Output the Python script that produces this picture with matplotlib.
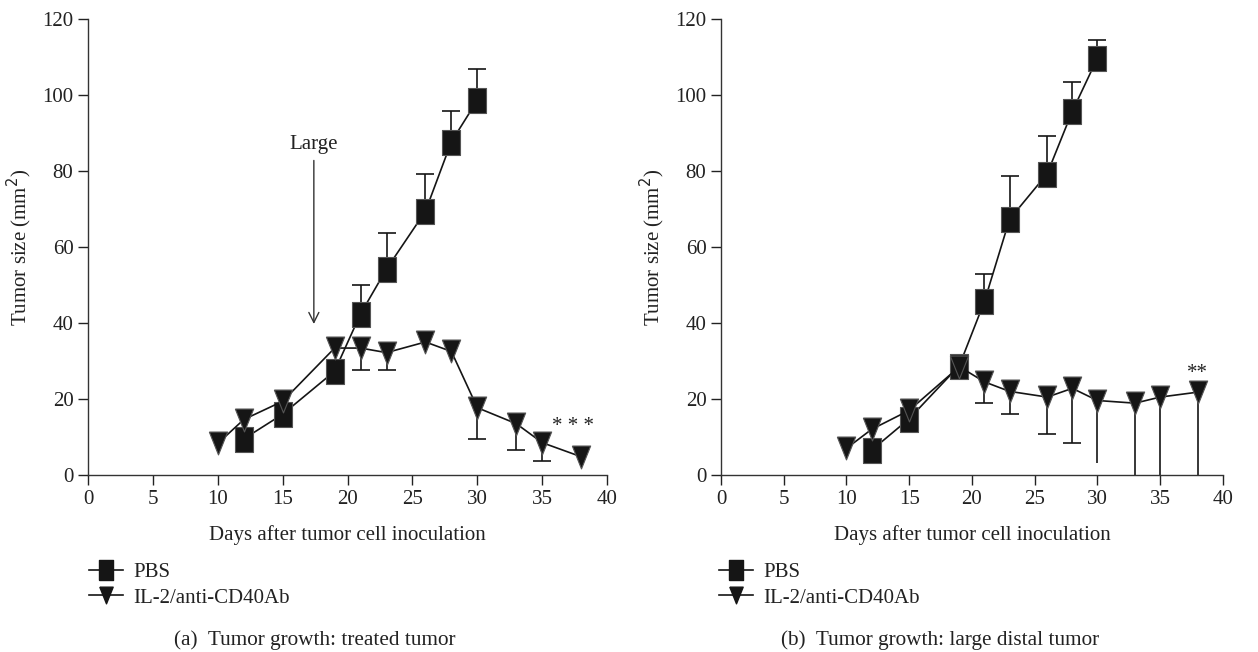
import numpy as np
import matplotlib.pyplot as plt
from matplotlib.lines import Line2D

plt.rcParams['font.family'] = ['Liberation Serif', 'DejaVu Serif']

# (a) treated tumor
a_pbs_days = [12, 15, 19, 21, 23, 26, 28, 30]
a_pbs_size = [9.5, 16.0, 27.3, 42.4, 54.2, 69.4, 87.7, 98.6]
a_pbs_err = [0, 0, 0, 7.7, 9.4, 9.7, 8.0, 8.2]

a_il2_days = [10, 12, 15, 19, 21, 23, 26, 28, 30, 33, 35, 38]
a_il2_size = [8.3, 14.6, 19.4, 33.4, 33.4, 32.2, 35.0, 32.5, 17.7, 13.5, 8.5, 4.8]
a_il2_err = [0, 0, 0, 0, 5.9, 4.6, 0, 0, 8.3, 6.8, 4.8, 0]

# (b) large distal tumor
b_pbs_days = [12, 15, 19, 21, 23, 26, 28, 30]
b_pbs_size = [6.5, 14.8, 28.8, 45.7, 67.3, 79.3, 95.7, 109.7]
b_pbs_err = [0, 0, 2.5, 7.1, 11.5, 9.8, 7.7, 4.7]

b_il2_days = [10, 12, 15, 19, 21, 23, 26, 28, 30, 33, 35, 38]
b_il2_size = [7.0, 12.0, 17.0, 28.5, 24.5, 22.0, 20.5, 22.8, 19.6, 18.9, 20.5, 21.8]
b_il2_err = [0, 0, 0, 0, 5.5, 6.0, 9.6, 14.5, 16.4, 25, 25, 25]

captions = ['(a)  Tumor growth: treated tumor', '(b)  Tumor growth: large distal tumor']
stars = ['* * *', '**']
star_pos = [(37.4, 10.3), (38.0, 24.3)]

fig = plt.figure(figsize=(12.58, 6.52), dpi=100)
ax1 = fig.add_axes([0.0700, 0.2715, 0.4126, 0.6994])
ax2 = fig.add_axes([0.5731, 0.2715, 0.3990, 0.6994])

col = '#151515'
txt = '#222222'
fs = 15
# tall markers, as in the original figure
sq = [(-0.72, -1), (0.72, -1), (0.72, 1), (-0.72, 1), (-0.72, -1)]
tri = [(-0.8, 1), (0.8, 1), (0, -1), (-0.8, 1)]
mk = dict(mfc=col, mec='#555555', mew=0.8)


def err_bars(ax, x, y, e, up, caps=True):
    # one-sided error bars: vertical line plus a cap at the far end only
    x, y, e = np.array(x), np.array(y), np.array(e)
    m = e > 0
    end = y[m] + e[m] if up else y[m] - e[m]
    ax.vlines(x[m], y[m], end, color=col, lw=1.2, zorder=2)
    if caps:
        ax.plot(x[m], end, ls='none', marker='_', ms=12.5, mew=1.2,
                color=col, zorder=2)


panels = [
    (ax1, a_pbs_days, a_pbs_size, a_pbs_err, a_il2_days, a_il2_size, a_il2_err),
    (ax2, b_pbs_days, b_pbs_size, b_pbs_err, b_il2_days, b_il2_size, b_il2_err),
]

for i, (ax, pd_, ps, pe, td, ts, te) in enumerate(panels):
    ax.plot(pd_, ps, color=col, lw=1.2, marker=sq, ms=18, zorder=3, **mk)
    ax.plot(td, ts, color=col, lw=1.2, marker=tri, ms=16.5, zorder=4, **mk)
    # PBS: upper error bars only
    err_bars(ax, pd_, ps, pe, up=True)
    # IL-2/anti-CD40Ab: lower error bars only
    if i == 0:
        err_bars(ax, td, ts, te, up=False)
    else:
        err_bars(ax, td[:8], ts[:8], te[:8], up=False)
        err_bars(ax, td[8:], ts[8:], te[8:], up=False, caps=False)

    ax.set_xlim(0, 40)
    ax.set_ylim(0, 120)
    ax.set_xticks(range(0, 41, 5))
    ax.set_yticks(range(0, 121, 20))
    for s in ['top', 'right']:
        ax.spines[s].set_visible(False)
    for s in ['left', 'bottom']:
        ax.spines[s].set_linewidth(1.0)
        ax.spines[s].set_color('#333333')
    ax.tick_params(direction='out', length=7, width=1.0, labelsize=fs,
                   colors=txt)
    ax.set_xlabel('Days after tumor cell inoculation', fontsize=fs, labelpad=12,
                  color=txt)
    ax.set_ylabel('Tumor size (mm$^2$)', fontsize=fs, color=txt, labelpad=6)
    ax.text(star_pos[i][0], star_pos[i][1], stars[i], ha='center', va='bottom',
            fontsize=fs, color=txt)

    handles = [
        Line2D([], [], color=col, lw=1.2, marker=sq, ms=14, mfc=col, mec=col),
        Line2D([], [], color=col, lw=1.2, marker=tri, ms=12, mfc=col, mec=col),
    ]
    leg_x = [0.0707, 0.5715][i]
    leg = fig.legend(handles, ['PBS', 'IL-2/anti-CD40Ab'], loc='center left',
                     bbox_to_anchor=(leg_x, 0.1028), frameon=False,
                     fontsize=fs, handlelength=1.65, handletextpad=0.5,
                     labelspacing=0.3, borderpad=0.0, borderaxespad=0.0)
    for t in leg.get_texts():
        t.set_color(txt)

    fig.text([0.25, 0.747][i], 0.0184, captions[i], ha='center', va='center',
             fontsize=15.3, color=txt)

ax1.annotate('', xy=(17.4, 39.0), xytext=(17.4, 83.5),
             arrowprops=dict(arrowstyle='->', color='#333333', lw=1.0,
                             mutation_scale=18))
ax1.text(17.4, 84.5, 'Large', ha='center', va='bottom', fontsize=fs,
         color=txt)

plt.savefig('out.png', dpi=100)
